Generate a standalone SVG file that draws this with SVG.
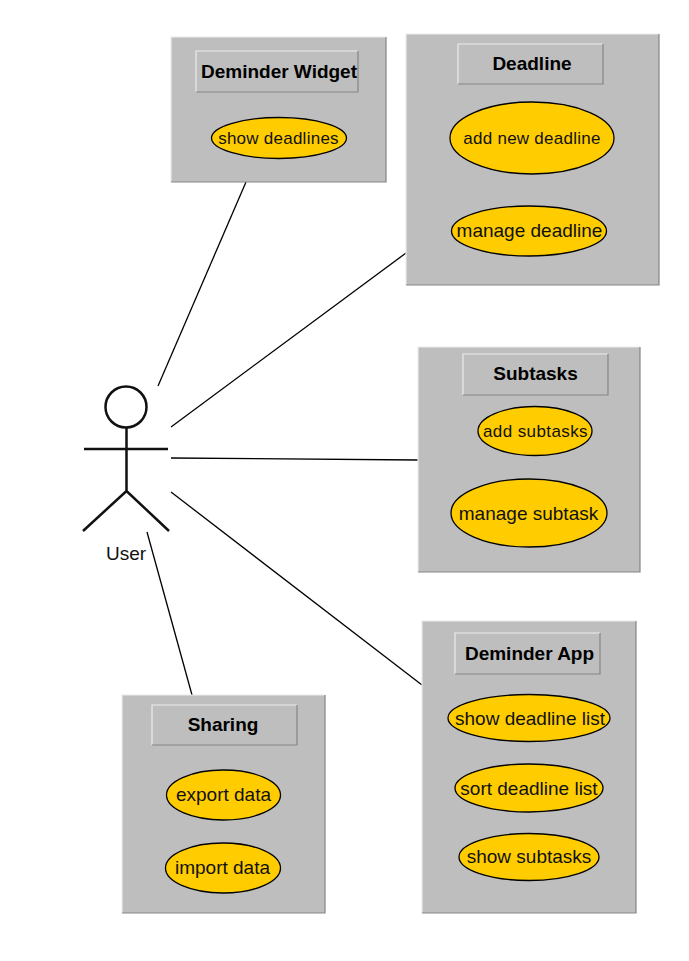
<svg xmlns="http://www.w3.org/2000/svg" width="689" height="961" viewBox="0 0 689 961">
<defs><style>
.box{fill:#bebebe}
.hl{fill:none;stroke:#ececec;stroke-width:1.2}
.sh{fill:none;stroke:#858585;stroke-width:1.2}
.t{font-family:"Liberation Sans",Arial,sans-serif;font-size:19px;font-weight:bold;fill:#000;text-anchor:middle}
.u{fill:#ffcc00;stroke:#000;stroke-width:1.3}
.l{font-family:"Liberation Sans",Arial,sans-serif;fill:#111;text-anchor:middle;font-size:19px}
.c{fill:none;stroke:#000;stroke-width:1.3}
.a{fill:none;stroke:#111;stroke-width:2.5}
</style></defs>
<rect width="689" height="961" fill="#fff"/>
<g id="connectors">
<line class="c" x1="158" y1="386" x2="246" y2="182"/>
<line class="c" x1="171" y1="427" x2="406" y2="253"/>
<line class="c" x1="171" y1="458" x2="418" y2="460"/>
<line class="c" x1="171" y1="492" x2="422" y2="685"/>
<line class="c" x1="147" y1="532" x2="192" y2="695"/>
</g>
<g id="user">
<circle class="a" cx="126" cy="407" r="20.5"/>
<path class="a" d="M126.500 427V491M84 449H168M83 531L126.500 491L169 531"/>
<text x="126" y="560" style="font-family:'Liberation Sans',Arial,sans-serif;font-size:19px;fill:#111;text-anchor:middle">User</text>
</g>
<g id="widget">
<rect class="box" x="171" y="37" width="215" height="145"/>
<path class="hl" d="M171 182V37H386"/><path class="sh" d="M171 182H386V37"/>
<path class="hl" d="M196 92V51H358"/><path class="sh" d="M196 92H358V51"/>
<text class="t" x="279" y="78">Deminder Widget</text>
<ellipse class="u" cx="279" cy="138" rx="67.500" ry="20.500"/>
<text class="l" x="278.500" y="144" style="font-size:17px;letter-spacing:.25px">show deadlines</text>
</g>
<g id="deadline">
<rect class="box" x="406" y="34" width="253" height="251"/>
<path class="hl" d="M406 285V34H659"/><path class="sh" d="M406 285H659V34"/>
<path class="hl" d="M458 84V44H603"/><path class="sh" d="M458 84H603V44"/>
<text class="t" x="532" y="70">Deadline</text>
<ellipse class="u" cx="532" cy="138" rx="82" ry="36"/>
<text class="l" x="532" y="144" style="font-size:17px;letter-spacing:.25px">add new deadline</text>
<ellipse class="u" cx="529" cy="231" rx="77.500" ry="25"/>
<text class="l" x="529.500" y="237">manage deadline</text>
</g>
<g id="subtasks">
<rect class="box" x="418" y="347" width="222" height="225"/>
<path class="hl" d="M418 572V347H640"/><path class="sh" d="M418 572H640V347"/>
<path class="hl" d="M463 395V354H608"/><path class="sh" d="M463 395H608V354"/>
<text class="t" x="535.500" y="380">Subtasks</text>
<ellipse class="u" cx="535" cy="431" rx="57" ry="24.500"/>
<text class="l" x="535.500" y="437" style="font-size:17px;letter-spacing:.4px">add subtasks</text>
<ellipse class="u" cx="529" cy="513" rx="78" ry="34"/>
<text class="l" x="528.500" y="520">manage subtask</text>
</g>
<g id="app">
<rect class="box" x="422" y="621" width="214" height="292"/>
<path class="hl" d="M422 913V621H636"/><path class="sh" d="M422 913H636V621"/>
<path class="hl" d="M455 674V633H600"/><path class="sh" d="M455 674H600V633"/>
<text class="t" x="529.500" y="660">Deminder App</text>
<ellipse class="u" cx="529" cy="718" rx="81" ry="23.500"/>
<text class="l" x="530" y="725">show deadline list</text>
<ellipse class="u" cx="529" cy="788" rx="74" ry="24"/>
<text class="l" x="529" y="795">sort deadline list</text>
<ellipse class="u" cx="529" cy="857" rx="70" ry="23.500"/>
<text class="l" x="529" y="863">show subtasks</text>
</g>
<g id="sharing">
<rect class="box" x="122" y="695" width="203" height="218"/>
<path class="hl" d="M122 913V695H325"/><path class="sh" d="M122 913H325V695"/>
<path class="hl" d="M152 745V705H297"/><path class="sh" d="M152 745H297V705"/>
<text class="t" x="223" y="731">Sharing</text>
<ellipse class="u" cx="223.500" cy="795" rx="57" ry="25"/>
<text class="l" x="223.500" y="801">export data</text>
<ellipse class="u" cx="223" cy="868" rx="57.500" ry="25"/>
<text class="l" x="222.500" y="874">import data</text>
</g>
</svg>
